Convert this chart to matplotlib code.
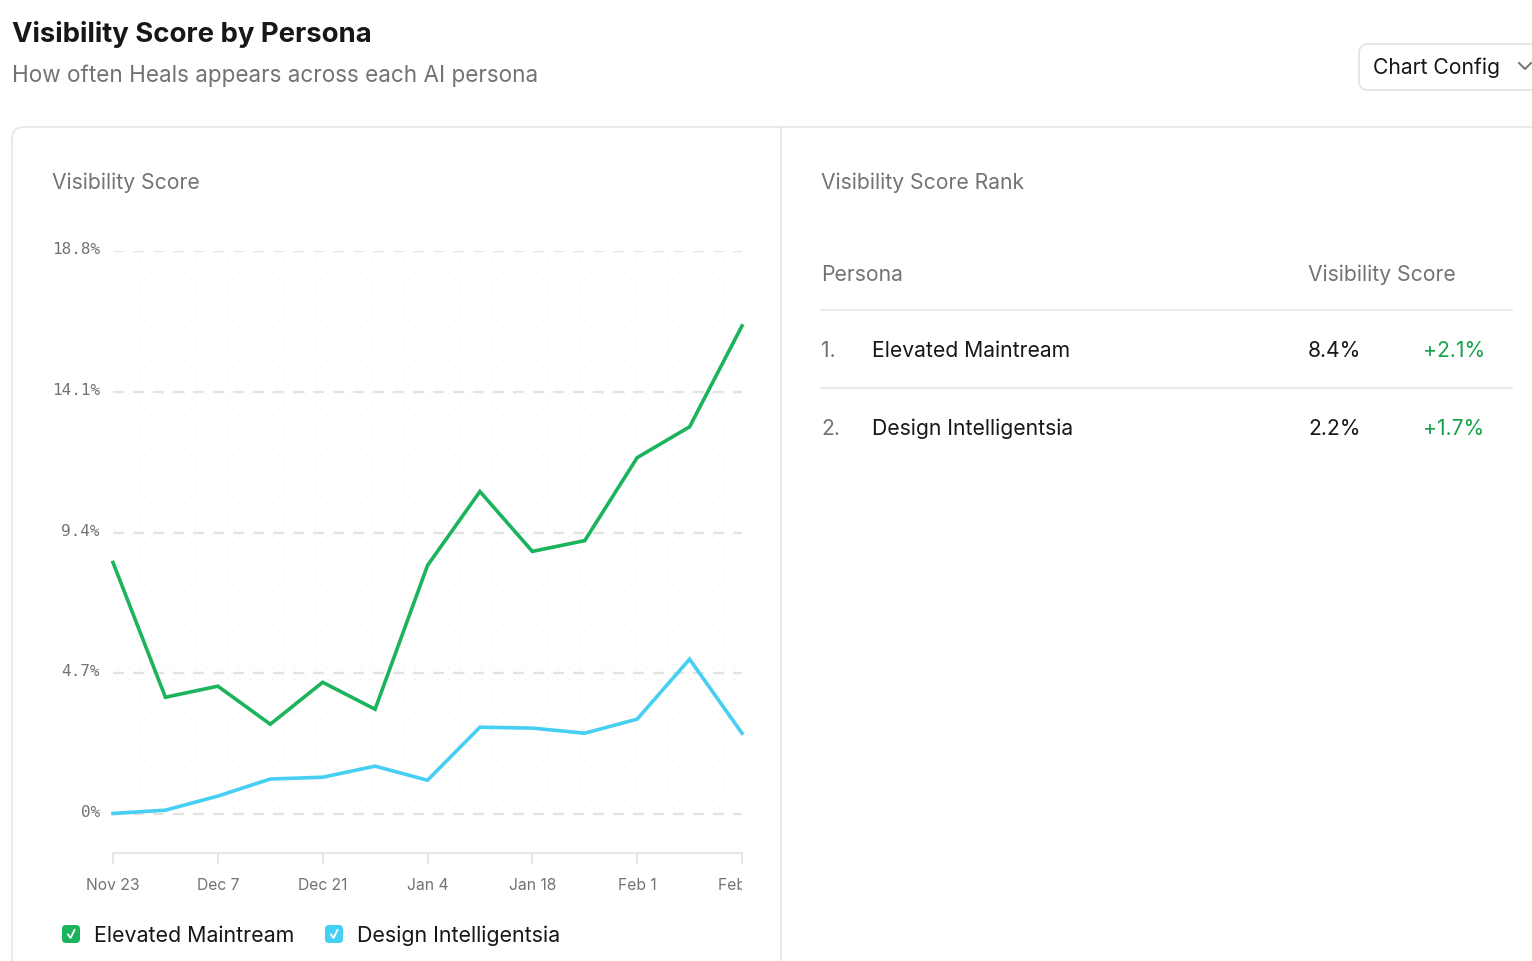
import numpy as np
import matplotlib
matplotlib.use("Agg")
import matplotlib.pyplot as plt
from matplotlib.patches import FancyBboxPatch
from matplotlib.transforms import Bbox, ScaledTranslation

# weekly visibility score (%) per persona
weeks = ["Nov 23", "Nov 30", "Dec 7", "Dec 14", "Dec 21", "Dec 28", "Jan 4",
         "Jan 11", "Jan 18", "Jan 25", "Feb 1", "Feb 8", "Feb 15"]
elevated = [8.4, 3.9, 4.27, 3.0, 4.4, 3.5, 8.3, 10.77, 8.77, 9.13, 11.9, 12.93, 16.3]
design = [0.02, 0.13, 0.6, 1.17, 1.23, 1.6, 1.13, 2.9, 2.87, 2.7, 3.17, 5.17, 2.7]
yticks = [0, 4.7, 9.4, 14.1, 18.8]
ytick_labels = ["0%", "4.7%", "9.4%", "14.1%", "18.8%"]

# rank table
rank_names = ["Elevated Maintream", "Design Intelligentsia"]
rank_scores = ["8.4%", "2.2%"]
rank_deltas = ["+2.1%", "+1.7%"]

GREEN = "#1cb35d"
BLUE = "#46cff2"
DARK = "#171717"
GRAY = "#737373"
LINE = "#e6e6e6"
FONT = "Inter"

W, H = 1532, 962
fig = plt.figure(figsize=(W / 100, H / 100), dpi=100)
fig.patch.set_facecolor("white")

# full-figure canvas in pixel coordinates for the page furniture
cv = fig.add_axes([0, 0, 1, 1], zorder=0)
cv.set_xlim(0, W)
cv.set_ylim(H, 0)
cv.axis("off")


def txt(x, y, s, size=15.2, color=DARK, **kw):
    # Inter sits a little high with va=center, nudge down 2px
    cv.text(x, y + 2, s, fontsize=size, color=color, family=FONT, va="center", ha="left", **kw)


txt(12, 32, "Visibility Score by Persona", size=19.8, fontweight="bold")
txt(12, 74, "How often Heals appears across each AI persona", size=16.2, color=GRAY)

# Chart Config button
cv.add_patch(FancyBboxPatch((1359, 45), 200, 46, boxstyle="round,pad=0,rounding_size=9",
                            fc="white", ec="#e2e2e2", lw=1.2))
txt(1373, 66, "Chart Config", size=15.2)
cv.plot([1519, 1525, 1531], [64, 70, 64], color=GRAY, lw=1.4)

# card
cv.add_patch(FancyBboxPatch((12, 128), 1600, 900, boxstyle="round,pad=0,rounding_size=12",
                            fc="white", ec=LINE, lw=1.2))
cv.plot([781, 781], [129, H], color=LINE, lw=1.2)

txt(52, 181, "Visibility Score", color=GRAY)
txt(821, 181, "Visibility Score Rank", color=GRAY)

# rank table
txt(821, 273, "Persona", color=GRAY)
txt(1308, 273, "Visibility Score", color=GRAY)
cv.plot([821, 1512], [311, 311], color=LINE, lw=1.2)
for i, (name, score, delta) in enumerate(zip(rank_names, rank_scores, rank_deltas)):
    y = 349 + i * 78
    txt(821, y, f"{i + 1}.", color=GRAY)
    txt(872, y, name)
    txt(1308, y, score)
    txt(1423, y, delta, color="#16a34a")
    if i == 0:
        cv.plot([821, 1512], [y + 40, y + 40], color=LINE, lw=1.2)

# faint dot grid behind the plot
gx, gy = np.meshgrid(np.arange(118, 740, 11), np.arange(262, 812, 11))
cv.scatter(gx.ravel(), gy.ravel(), s=1.2, color="#ededed", lw=0)

# legend checkboxes
for x0, col, label in [(62, GREEN, rank_names[0]), (325, BLUE, rank_names[1])]:
    cv.add_patch(FancyBboxPatch((x0, 926), 18, 18, boxstyle="round,pad=0,rounding_size=4",
                                fc=col, ec="none"))
    cv.plot([x0 + 6, x0 + 8.5, x0 + 12.5], [935.5, 939, 931], color="white", lw=1.3)
    txt(x0 + 32, 934, label, size=15.4)

# line chart
left, right, top, bottom = 113, 742, 252, 854
ax = fig.add_axes([left / W, (H - bottom) / H, (right - left) / W, (bottom - top) / H], zorder=2)
ax.patch.set_alpha(0)
x = np.arange(len(weeks))
ax.plot(x, elevated, color=GREEN, lw=2.6, solid_joinstyle="miter", clip_on=False)
ax.plot(x, design, color=BLUE, lw=2.6, solid_joinstyle="miter", clip_on=False)
ax.set_xlim(0, len(weeks) - 1)
ax.set_ylim(-1.3, 18.8)

ax.set_yticks(yticks)
ax.set_yticklabels(ytick_labels, family="DejaVu Sans Mono", fontsize=11.5, color=GRAY)
ax.yaxis.grid(True, color="#e3e3e3", lw=1.6, linestyle=(0, (5, 4)))
ax.tick_params(axis="y", length=0, pad=9.4)
up = ScaledTranslation(0, 4 / 100, fig.dpi_scale_trans)
for lab in ax.get_yticklabels():
    lab.set_transform(lab.get_transform() + up)

ax.set_xticks(x[::2])
ax.set_xticklabels(weeks[::2], family=FONT, fontsize=11.3, color=GRAY)
ax.tick_params(axis="x", length=8, width=1.5, color=LINE, pad=9.5)
clip = Bbox.from_extents(0, 0, right, H)
for lab in ax.get_xticklabels():
    lab.set_clip_on(True)
    lab.set_clip_box(clip)

for s in ["top", "right", "left"]:
    ax.spines[s].set_visible(False)
ax.spines["bottom"].set_color(LINE)
ax.spines["bottom"].set_linewidth(1.5)
ax.set_axisbelow(True)

fig.savefig("out.png", dpi=100)
